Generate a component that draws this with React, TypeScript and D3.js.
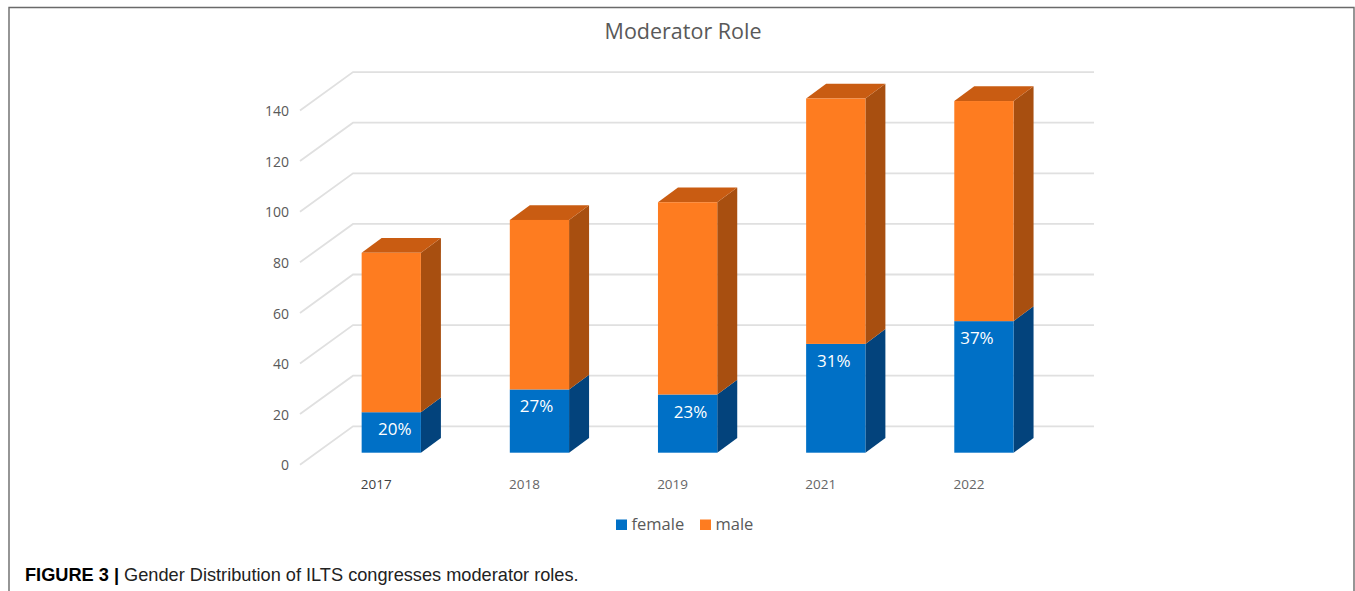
import * as d3 from 'd3';

const years = ['2017', '2018', '2019', '2021', '2022'];
const female = [16, 25, 23, 43, 52];
const male = [63, 67, 76, 97, 87];
const percents = ['20%', '27%', '23%', '31%', '37%'];
const yTicks = [0, 20, 40, 60, 80, 100, 120, 140];
const seriesNames = ['female', 'male'];
const labelNudge = [3.5, -3, 3, -2, -7];

const width = 1355;
const height = 591;
const depthX = 20;
const depthY = 14.8;
const font = '"Open Sans", sans-serif';

const faces: Record<string, { front: string; side: string; top: string }> = {
  female: { front: '#0070c6', side: '#03437c', top: '#0a5ea8' },
  male: { front: '#fe7c20', side: '#a84f10', top: '#c95c12' },
};

const x = d3.scaleBand<string>().domain(years).range([317.2, 1058]).padding(0.6).paddingOuter(0.3);
const y = d3.scaleLinear().domain([0, 140]).range([452.7, 98.5]);

const rows = years.map((year, i) => ({ year, female: female[i], male: male[i] }));
const stacked = d3.stack<{ year: string; female: number; male: number }>().keys(seriesNames as any)(rows as any);

const polygon = (pts: [number, number][]) => (d3.line()(pts) ?? '') + 'Z';

export default function App() {
  const bw = x.bandwidth();
  return (
    <svg width={width} height={height} style={{ position: 'absolute', left: 0, top: 0, background: '#fff' }}>
      <path d="M9,591V7.5H1354V591" fill="none" stroke="#6a6a6a" strokeWidth={1.4} />
      <text x={683} y={39} textAnchor="middle" fontFamily={font} fontSize={21.5} fill="#595959">
        Moderator Role
      </text>

      {yTicks.map((t) => (
        <g key={t}>
          <polyline
            points={`300,${y(t) + 12} 353,${y(t) - 26.4} 1094,${y(t) - 26.4}`}
            fill="none"
            stroke="#e0e0e0"
            strokeWidth={1.8}
          />
          <text x={289} y={y(t) + 17.7} textAnchor="end" fontFamily={font} fontSize={14} fill="#595959">
            {t}
          </text>
        </g>
      ))}

      {stacked.map((layer) => {
        const c = faces[layer.key];
        return layer.map((d, i) => {
          const x0 = x(years[i])!;
          const x1 = x0 + bw;
          const yTop = y(d[1]);
          const yBot = y(d[0]);
          return (
            <g key={layer.key + years[i]}>
              <path
                d={polygon([
                  [x1, yTop],
                  [x1 + depthX, yTop - depthY],
                  [x1 + depthX, yBot - depthY],
                  [x1, yBot],
                ])}
                fill={c.side}
              />
              {layer.key === 'male' && (
                <path
                  d={polygon([
                    [x0, yTop],
                    [x0 + depthX, yTop - depthY],
                    [x1 + depthX, yTop - depthY],
                    [x1, yTop],
                  ])}
                  fill={c.top}
                />
              )}
              <rect x={x0} y={yTop} width={bw} height={yBot - yTop} fill={c.front} />
            </g>
          );
        });
      })}

      {percents.map((p, i) => (
        <text
          key={p}
          x={x(years[i])! + bw / 2 + labelNudge[i]}
          y={y(female[i]) + 23}
          textAnchor="middle"
          fontFamily={font}
          fontSize={17}
          fill="#fff"
        >
          {p}
        </text>
      ))}

      {years.map((yr, i) => (
        <text
          key={yr}
          x={x(yr)! + bw / 2 - 15}
          y={489}
          textAnchor="middle"
          fontFamily={font}
          fontSize={13.5}
          fill={i === 0 ? '#404040' : '#666'}
        >
          {yr}
        </text>
      ))}

      {seriesNames.map((name, i) => {
        const lx = i === 0 ? 616 : 700;
        return (
          <g key={name}>
            <rect x={lx} y={519.5} width={11} height={10.5} fill={faces[name].front} />
            <text x={lx + 15.5} y={530} fontFamily={font} fontSize={16.5} fill="#595959">
              {name}
            </text>
          </g>
        );
      })}

      <text x={25} y={581} fontFamily='"Liberation Sans", Arial, sans-serif' fontSize={18.2} fill="#222">
        <tspan fontWeight="bold" fill="#000">FIGURE 3 | </tspan>
        Gender Distribution of ILTS congresses moderator roles.
      </text>
    </svg>
  );
}
